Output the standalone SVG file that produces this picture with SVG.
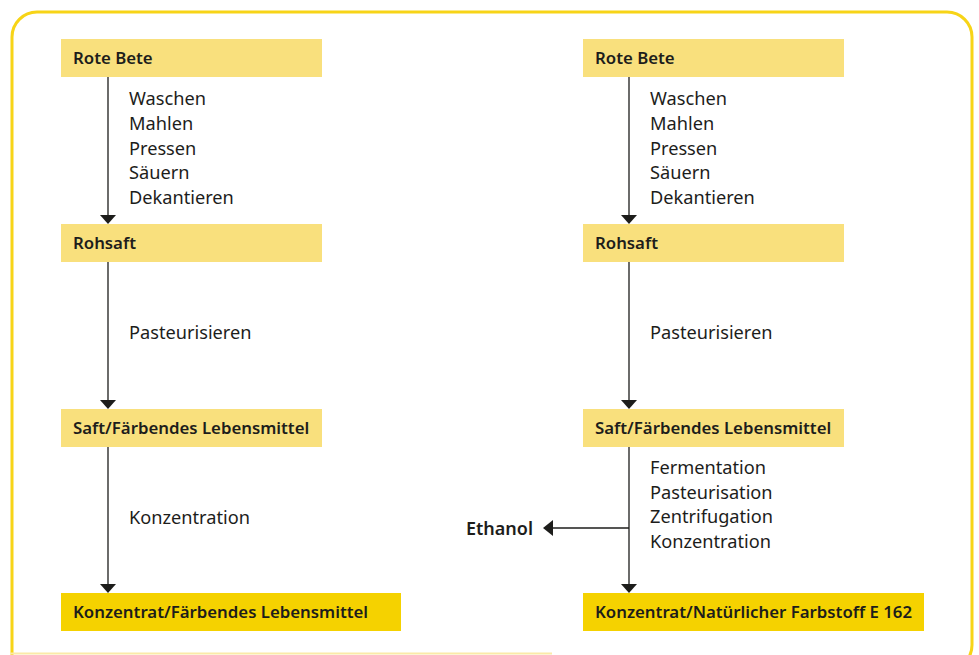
<svg xmlns="http://www.w3.org/2000/svg" width="979" height="655" viewBox="0 0 979 655">
<style>
.frame{fill:none;stroke:#f7d417;stroke-width:3}
.box{fill:#f9e07d}
.boxd{fill:#f5d200}
.lbl{font-family:"Noto Sans","Open Sans",sans-serif;font-weight:600;font-size:16.8px;fill:#1d1d1b}
.eth{font-size:18px}
.step{font-family:"Noto Sans","Open Sans",sans-serif;font-size:18.2px;fill:#1d1d1b}
.ln{stroke:#1d1d1b;stroke-width:1.3;fill:none}
.ah{fill:#1d1d1b}
</style>
<rect width="979" height="655" fill="#ffffff"/>
<path class="frame" d="M12,655 L12,37 A25,25 0 0 1 37,12 L947,12 A25,25 0 0 1 972,37 L972,645 A25,25 0 0 1 947,670"/>
<line x1="10" y1="653.5" x2="552" y2="653.5" stroke="#fbeaa8" stroke-width="2"/>
<g id="connectors">
<line class="ln" x1="108" y1="77" x2="108" y2="216"/>
<path class="ah" d="M100,215 L116,215 L108,224 Z"/>
<line class="ln" x1="108" y1="262" x2="108" y2="401"/>
<path class="ah" d="M100,400 L116,400 L108,409 Z"/>
<line class="ln" x1="108" y1="447" x2="108" y2="585"/>
<path class="ah" d="M100,584 L116,584 L108,593 Z"/>
<line class="ln" x1="629" y1="77" x2="629" y2="216"/>
<path class="ah" d="M621,215 L637,215 L629,224 Z"/>
<line class="ln" x1="629" y1="262" x2="629" y2="401"/>
<path class="ah" d="M621,400 L637,400 L629,409 Z"/>
<line class="ln" x1="629" y1="447" x2="629" y2="585"/>
<path class="ah" d="M621,584 L637,584 L629,593 Z"/>
<line class="ln" x1="629" y1="528" x2="552" y2="528"/>
<path class="ah" d="M553,520 L553,536 L543,528 Z"/>
</g>
<g id="n1"><rect class="box" x="61" y="39" width="261" height="38"/><text class="lbl" x="73" y="64">Rote Bete</text></g>
<g id="n2"><rect class="box" x="61" y="224" width="261" height="38"/><text class="lbl" x="73" y="249">Rohsaft</text></g>
<g id="n3"><rect class="box" x="61" y="409" width="261" height="38"/><text class="lbl" x="73" y="434">Saft/Färbendes Lebensmittel</text></g>
<g id="n4"><rect class="boxd" x="61" y="593" width="340" height="38"/><text class="lbl" x="73" y="618">Konzentrat/Färbendes Lebensmittel</text></g>
<g id="n5"><rect class="box" x="583" y="39" width="261" height="38"/><text class="lbl" x="595" y="64">Rote Bete</text></g>
<g id="n6"><rect class="box" x="583" y="224" width="261" height="38"/><text class="lbl" x="595" y="249">Rohsaft</text></g>
<g id="n7"><rect class="box" x="583" y="409" width="261" height="38"/><text class="lbl" x="595" y="434">Saft/Färbendes Lebensmittel</text></g>
<g id="n8"><rect class="boxd" x="583" y="593" width="341" height="38"/><text class="lbl" x="595" y="618">Konzentrat/Natürlicher Farbstoff E 162</text></g>
<g id="n9"><text class="lbl eth" x="466" y="535">Ethanol</text></g>
<g id="steps">
<text class="step" x="129" y="105">Waschen</text>
<text class="step" x="129" y="130">Mahlen</text>
<text class="step" x="129" y="155">Pressen</text>
<text class="step" x="129" y="179">Säuern</text>
<text class="step" x="129" y="204">Dekantieren</text>
<text class="step" x="129" y="339">Pasteurisieren</text>
<text class="step" x="129" y="524">Konzentration</text>
<text class="step" x="650" y="105">Waschen</text>
<text class="step" x="650" y="130">Mahlen</text>
<text class="step" x="650" y="155">Pressen</text>
<text class="step" x="650" y="179">Säuern</text>
<text class="step" x="650" y="204">Dekantieren</text>
<text class="step" x="650" y="339">Pasteurisieren</text>
<text class="step" x="650" y="474">Fermentation</text>
<text class="step" x="650" y="499">Pasteurisation</text>
<text class="step" x="650" y="523">Zentrifugation</text>
<text class="step" x="650" y="548">Konzentration</text>
</g>
</svg>
